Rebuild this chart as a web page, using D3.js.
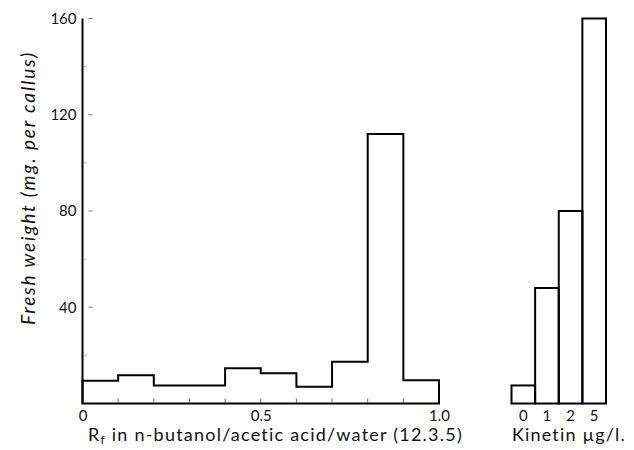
<!DOCTYPE html>
<html>
<head>
<meta charset="utf-8">
<script src="https://cdn.jsdelivr.net/npm/d3@7"></script>
<style>
  body { margin: 0; background: #fff; }
  svg { display: block; }
  text { font-family: Lato, "Open Sans", "DejaVu Sans", sans-serif; fill: #111; }
</style>
</head>
<body>
<div id="chart"></div>
<script>
// data
var rfBins = [0, 0.1, 0.2, 0.3, 0.4, 0.5, 0.6, 0.7, 0.8, 0.9];
var rfWeights = [9.5, 11.7, 7.5, 7.5, 14.6, 12.6, 7, 17.3, 112, 9.7];
var kinetinLevels = ["0", "1", "2", "5"];
var kinetinWeights = [7.5, 48, 80, 160];
var yTicks = [40, 80, 120, 160];
var yMinorTicks = [20, 60, 100, 140];
var xTicks = [0, 0.5, 1];
var xMinorTicks = [0.1, 0.2, 0.3, 0.4, 0.5, 0.6, 0.7, 0.8, 0.9];

var svgwidth = 634;
var svgheight = 450;

var svg = d3.select("#chart").append("svg")
    .attr("width", svgwidth)
    .attr("height", svgheight);

// stretch a label to the width it has in the print
function fitText(sel, width) {
    var node = sel.node();
    var w = node.getComputedTextLength();
    var n = node.textContent.length;
    if (n > 1) sel.attr("letter-spacing", (width - w) / (n - 1));
}

// scales
var yScale = d3.scaleLinear().domain([0, 160]).range([403.5, 18.5]);
var xScale = d3.scaleLinear().domain([0, 1]).range([82.5, 439]);
var kScale = d3.scaleBand().domain(kinetinLevels).range([511.5, 606]).paddingInner(0);

// y axis line
svg.append("line")
    .attr("x1", xScale(0)).attr("x2", xScale(0))
    .attr("y1", yScale(0)).attr("y2", yScale(160))
    .attr("stroke", "#000").attr("stroke-width", 2);

// y tick marks (drawn a little off the axis, as in the print)
svg.selectAll(".ymaj").data(yTicks).enter().append("line")
    .attr("x1", xScale(0) + 6).attr("x2", xScale(0) + 10)
    .attr("y1", d => yScale(d)).attr("y2", d => yScale(d))
    .attr("stroke", "#777").attr("stroke-width", 1);
svg.selectAll(".ymin").data(yMinorTicks).enter().append("line")
    .attr("x1", xScale(0) + 2).attr("x2", xScale(0) + 4)
    .attr("y1", d => yScale(d)).attr("y2", d => yScale(d))
    .attr("stroke", "#999").attr("stroke-width", 1);

// y tick labels
var leftAxis = d3.axisLeft(yScale).tickValues(yTicks).tickSize(0).tickPadding(6);
var yAxisG = svg.append("g")
    .attr("transform", `translate(${xScale(0)},0)`)
    .call(leftAxis);
yAxisG.select(".domain").remove();
yAxisG.selectAll("text")
    .style("font-family", "Lato, 'Open Sans', sans-serif")
    .style("font-size", "15px").attr("fill", "#111");

// x tick labels
var bottomAxis = d3.axisBottom(xScale).tickValues(xTicks).tickSize(0).tickPadding(7)
    .tickFormat(d => d === 0 ? "0" : d.toFixed(1));
var xAxisG = svg.append("g")
    .attr("transform", `translate(0,${yScale(0)})`)
    .call(bottomAxis);
xAxisG.select(".domain").remove();
xAxisG.selectAll("text")
    .style("font-family", "Lato, 'Open Sans', sans-serif")
    .style("font-size", "15px").attr("fill", "#111");

// small ticks on the baseline
svg.selectAll(".xmin").data(xMinorTicks).enter().append("line")
    .attr("x1", d => xScale(d)).attr("x2", d => xScale(d))
    .attr("y1", yScale(0) - 1).attr("y2", yScale(0) - 5)
    .attr("stroke", "#666").attr("stroke-width", 1);

// histogram outline
var pts = [[0, 0]];
rfBins.forEach(function(b, i) {
    pts.push([b, rfWeights[i]]);
    pts.push([b + 0.1, rfWeights[i]]);
});
pts.push([1, 0]);
var line = d3.line()
    .x(d => xScale(d[0]))
    .y(d => yScale(d[1]));
svg.append("path")
    .attr("d", line(pts) + "Z")
    .attr("fill", "none")
    .attr("stroke", "#000")
    .attr("stroke-width", 2)
    .attr("stroke-linejoin", "miter");

// kinetin bars
svg.selectAll(".kbar").data(kinetinLevels).enter().append("rect")
    .attr("x", d => kScale(d))
    .attr("width", kScale.bandwidth())
    .attr("y", (d, i) => yScale(kinetinWeights[i]))
    .attr("height", (d, i) => yScale(0) - yScale(kinetinWeights[i]))
    .attr("fill", "none")
    .attr("stroke", "#000")
    .attr("stroke-width", 2);

var kAxis = d3.axisBottom(kScale).tickSize(0).tickPadding(7);
var kAxisG = svg.append("g")
    .attr("transform", `translate(0,${yScale(0)})`)
    .call(kAxis);
kAxisG.select(".domain").remove();
kAxisG.selectAll("text")
    .style("font-family", "Lato, 'Open Sans', sans-serif")
    .style("font-size", "15px").attr("fill", "#111");

// axis titles
var yt = svg.append("text")
    .attr("transform", "translate(35,188) rotate(-90)")
    .attr("text-anchor", "middle")
    .style("font-size", "19px")
    .style("font-style", "italic")
    .text("Fresh weight (mg. per callus)");
fitText(yt, 272);

var xt = svg.append("text")
    .attr("x", 88).attr("y", 441)
    .style("font-size", "18px");
xt.append("tspan").text("R");
xt.append("tspan").attr("dy", 3).style("font-size", "12px").text("f");
xt.append("tspan").attr("dy", -3).text(" in n-butanol/acetic acid/water (12.3.5)");
fitText(xt, 374);

var kt = svg.append("text")
    .attr("x", 512).attr("y", 441)
    .style("font-size", "18px")
    .text("Kinetin \u00b5g/l.");
fitText(kt, 113);
</script>
</body>
</html>
